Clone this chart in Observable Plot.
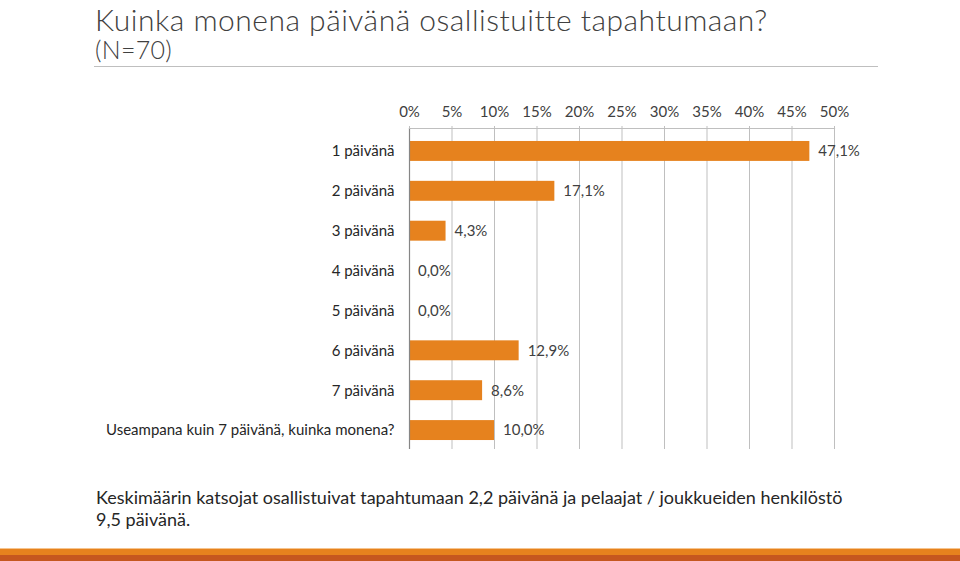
<!DOCTYPE html>
<html>
<head>
<meta charset="utf-8">
<script src="https://cdn.jsdelivr.net/npm/d3@7"></script>
<script src="https://cdn.jsdelivr.net/npm/@observablehq/plot@0.6"></script>
<style>
  html, body { margin: 0; padding: 0; background: #fff; }
  #page { position: relative; width: 960px; height: 561px; overflow: hidden; font-family: Lato, "Open Sans", sans-serif; }
  #title { position: absolute; left: 95px; top: 4px; font-size: 30px; letter-spacing: 0.5px; font-weight: 300; color: #404040; white-space: nowrap; line-height: 30px; }
  #subtitle { position: absolute; left: 95px; top: 36px; font-size: 25px; letter-spacing: 0.3px; font-weight: 300; color: #404040; white-space: nowrap; line-height: 26px; }
  #rule { position: absolute; left: 94px; top: 66px; width: 784px; height: 0; border-top: 1.5px solid #bfbfbf; }
  #chart { position: absolute; left: 0; top: 90px; }
  #caption { position: absolute; left: 96px; top: 486px; font-size: 18px; color: #262626; line-height: 22px; width: 820px; }
  .stripe { position: absolute; left: 0; width: 960px; }
</style>
</head>
<body>
<div id="page">
  <div id="title">Kuinka monena päivänä osallistuitte tapahtumaan?</div>
  <div id="subtitle">(N=70)</div>
  <div id="rule"></div>
  <div id="chart"></div>
  <div id="caption">Keskimäärin katsojat osallistuivat tapahtumaan 2,2 päivänä ja pelaajat / joukkueiden henkilöstö<br>9,5 päivänä.</div>
  <div class="stripe" style="top:548px;height:1px;background:#f6c48e;"></div>
  <div class="stripe" style="top:549px;height:6px;background:#e6821e;"></div>
  <div class="stripe" style="top:555px;height:6px;background:#c5571f;"></div>
</div>
<script>
const categories = [
  "1 päivänä",
  "2 päivänä",
  "3 päivänä",
  "4 päivänä",
  "5 päivänä",
  "6 päivänä",
  "7 päivänä",
  "Useampana kuin 7 päivänä, kuinka monena?"
];
const values = [47.1, 17.1, 4.3, 0.0, 0.0, 12.9, 8.6, 10.0];
const tickValues = [0, 5, 10, 15, 20, 25, 30, 35, 40, 45, 50];

const data = categories.map((c, i) => ({category: c, value: values[i]}));
const fmt = v => v.toFixed(1).replace(".", ",") + "%";

const chart = Plot.plot({
  width: 960,
  height: 370,
  marginLeft: 409,
  marginRight: 126,
  marginTop: 38,
  marginBottom: 11,
  style: {fontFamily: "Lato, 'Open Sans', sans-serif", fontSize: "15px", color: "#262626", background: "transparent"},
  x: {domain: [0, 50], range: [409, 834]},
  y: {domain: categories, range: [41, 360], paddingInner: 0.5, paddingOuter: 0.25, round: false},
  marks: [
    Plot.ruleX(tickValues.filter(d => d > 0), {stroke: "#bfbfbf", strokeWidth: 1, strokeOpacity: 1}),
    Plot.frame({anchor: "top", stroke: "#bfbfbf", strokeWidth: 1.2}),
    Plot.barX(data, {x: "value", y: "category", fill: "#e6821e"}),
    Plot.ruleX([0], {stroke: "#868686", strokeWidth: 1.2}),
    Plot.axisX({anchor: "top", ticks: tickValues, tickFormat: d => d + "%", tickSize: 3, tickPadding: 9, stroke: "#bfbfbf", fill: "#404040", fontSize: 15, label: null}),
    Plot.axisY({anchor: "left", tickSize: 0, tickPadding: 15, fill: "#262626", fontSize: 15, label: null}),
    Plot.text(data, {x: "value", y: "category", text: d => fmt(d.value), dx: 8.5, textAnchor: "start", fill: "#404040", fontSize: 15})
  ]
});
document.getElementById("chart").appendChild(chart);
</script>
</body>
</html>
